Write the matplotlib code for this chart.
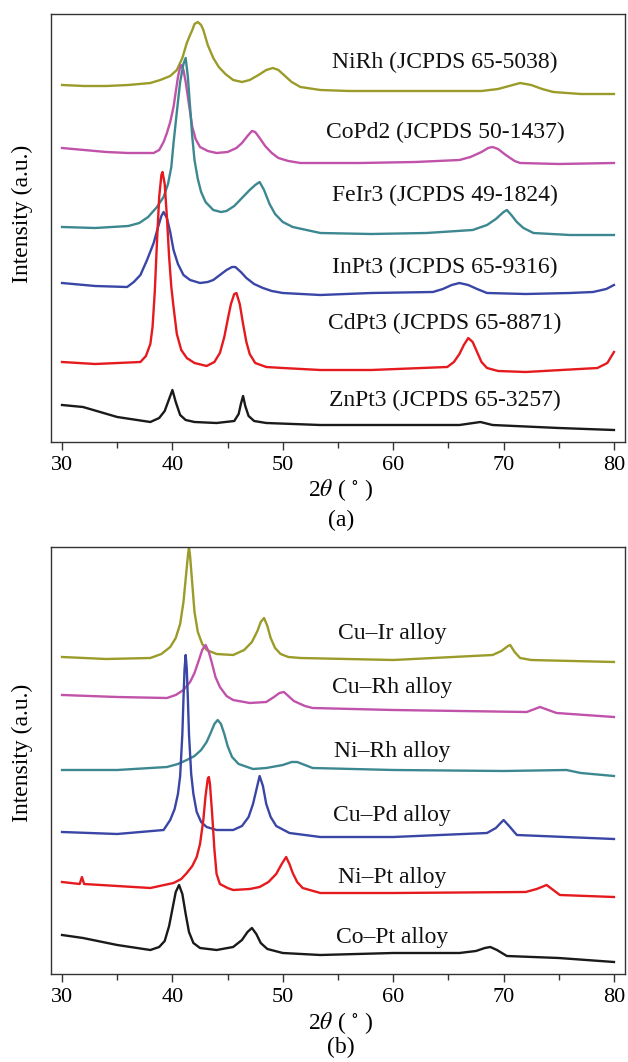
import matplotlib
matplotlib.use("Agg")
import matplotlib.pyplot as plt
from matplotlib.ticker import MultipleLocator

plt.rcParams['font.family'] = ['Liberation Serif', 'DejaVu Serif']
plt.rcParams['mathtext.fontset'] = 'stix'

# ---------------- Panel (a) data ----------------
labels_a = ["NiRh (JCPDS 65-5038)", "CoPd2 (JCPDS 50-1437)", "FeIr3 (JCPDS 49-1824)",
            "InPt3 (JCPDS 65-9316)", "CdPt3 (JCPDS 65-8871)", "ZnPt3 (JCPDS 65-3257)"]
colors_a = ["#9b9b2a", "#c052aa", "#3d8890", "#3a46a6", "#e51a1f", "#1a1a1a"]

nirh_x = [30, 32, 34, 36, 38, 38.9, 39.8, 40.4, 40.9, 41.3, 41.6, 41.8, 42.0, 42.3, 42.6, 42.8,
          43.2, 43.7, 44.2, 44.8, 45.5, 46.3, 47.0, 47.8, 48.5, 49.1, 49.6, 50.2, 50.8, 51.6,
          53.4, 56, 60, 64, 68, 69.5, 70.5, 71.5, 72.5, 73.5, 74.5, 77, 80]
nirh_y = [357, 356, 356, 357, 359, 362, 366, 372, 384, 399, 407, 412, 418, 420, 417, 412,
          397, 384, 375, 368, 362, 360, 362, 367, 372, 374, 372, 366, 360, 355,
          352, 351, 351, 351, 351, 353, 356, 359, 357, 353, 350, 348, 348]

copd2_x = [30, 32, 34, 36, 38.3, 38.8, 39.2, 39.5, 39.8, 40.1, 40.3, 40.5, 40.7, 40.8, 41.0,
           41.2, 41.4, 41.6, 41.8, 42.1, 42.5, 43.2, 44, 45, 45.8, 46.3, 46.8, 47.2, 47.5, 47.9,
           48.4, 49.0, 49.6, 50.5, 51.6, 53.4, 57, 62, 66, 67, 68, 68.6, 69, 69.5, 70.2, 71,
           71.5, 75, 80]
copd2_y = [294, 292, 290, 289, 289, 292, 300, 309, 320, 335, 350, 365, 375, 377, 372,
           360, 345, 330, 315, 303, 295, 291, 289, 290, 294, 299, 306, 311, 310, 304,
           296, 289, 284, 281, 279, 279, 279, 280, 282, 285, 290, 294, 295, 293, 287, 281,
           279, 278, 279]

feir3_x = [30, 33, 36, 37, 37.8, 38.6, 39.2, 39.6, 39.9, 40.1, 40.4, 40.7, 41.0, 41.2, 41.4,
           41.6, 41.8, 42.0, 42.3, 42.6, 43.0, 43.7, 44.4, 44.9, 45.6, 46.3, 47.0, 47.5, 47.9,
           48.3, 48.8, 49.3, 50, 50.9, 53.4, 58, 63, 67.2, 68.5, 69.3, 70, 70.3, 70.7, 71.2,
           71.8, 72.7, 76, 80]
feir3_y = [215, 214, 216, 219, 225, 235, 245, 258, 275, 299, 330, 360, 378, 384, 365,
           335, 305, 282, 263, 250, 240, 232, 230, 231, 236, 244, 252, 257, 260,
           252, 238, 228, 220, 215, 209, 208, 209, 212, 217, 223, 230, 232, 227, 220,
           214, 209, 207, 207]

inpt3_x = [30, 33, 35.9, 36.5, 37.1, 37.7, 38.3, 38.7, 39.0, 39.2, 39.5, 39.8, 40.1, 40.5, 41.0,
           41.6, 42.5, 43.2, 43.7, 44.3, 44.9, 45.4, 45.7, 46.2, 46.7, 47.4, 48.2, 49, 50, 53.4,
           58, 63.6, 64.5, 65.3, 66, 66.8, 67.6, 68.5, 72, 76, 78.1, 79.3, 80]
inpt3_y = [159, 156, 155, 160, 167, 182, 199, 215, 226, 230, 224, 210, 192, 178, 167,
           162, 159, 160, 162, 167, 172, 175, 175, 170, 164, 158, 154, 151, 149, 147,
           149, 150, 153, 157, 159, 157, 153, 149, 148, 149, 150, 153, 157]

cdpt3_x = [30, 33, 37.1, 37.6, 38.0, 38.2, 38.4, 38.6, 38.8, 39.0, 39.1, 39.3, 39.5, 39.7, 39.9,
           40.1, 40.4, 40.8, 41.3, 42, 43.1, 43.8, 44.3, 44.7, 45.0, 45.3, 45.6, 45.8, 46.1,
           46.4, 46.7, 47.0, 47.5, 48.5, 50, 53.4, 58, 64.9, 65.5, 66.0, 66.4, 66.8, 67.2,
           67.6, 68.0, 68.5, 69.5, 72, 78.5, 79.4, 80]
cdpt3_y = [80, 78, 80, 86, 98, 115, 150, 200, 245, 267, 270, 258, 225, 185, 155,
           135, 108, 92, 84, 79, 76, 80, 89, 105, 122, 138, 148, 149, 138,
           118, 100, 88, 79, 75, 74, 72, 72, 75, 80, 88, 97, 104, 100,
           90, 80, 74, 71, 70, 74, 79, 90]

znpt3_x = [30, 31.9, 35, 38, 38.8, 39.3, 39.7, 40.0, 40.3, 40.7, 41.2, 42, 44, 45.6, 46.0, 46.2,
           46.4, 46.6, 46.9, 47.4, 48.5, 53.4, 60, 66, 67.9, 69, 75, 80]
znpt3_y = [37, 35, 25, 20, 24, 31, 43, 52, 40, 27, 22, 20, 19, 21, 28, 38,
           46, 36, 26, 21, 19, 17, 17, 17, 20, 17, 14, 12]

# ---------------- Panel (b) data ----------------
labels_b = ["Cu\u2013Ir alloy", "Cu\u2013Rh alloy", "Ni\u2013Rh alloy",
            "Cu\u2013Pd alloy", "Ni\u2013Pt alloy", "Co\u2013Pt alloy"]
colors_b = colors_a

cuir_x = [30, 34, 38, 39, 39.8, 40.3, 40.7, 41.0, 41.2, 41.4, 41.5, 41.6, 41.8, 42.0, 42.3,
          42.7, 43.1, 44, 45.5, 46.5, 47.2, 47.7, 48.0, 48.3, 48.6, 48.9, 49.3, 49.8, 50.5,
          51.6, 60, 69, 69.8, 70.4, 70.6, 71.0, 71.5, 72.5, 80]
cuir_y = [317, 315, 316, 320, 327, 336, 350, 372, 395, 418, 427, 418, 390, 362, 342,
          330, 324, 320, 319, 324, 332, 343, 352, 356, 348, 336, 326, 320, 317,
          316, 314, 319, 323, 328, 329, 322, 316, 314, 312]

curh_x = [30, 35, 39.5, 40.3, 41, 41.6, 42.0, 42.4, 42.7, 43.0, 43.3, 43.6, 43.9, 44.3, 44.9,
          45.5, 47, 48.5, 49.2, 49.7, 50.1, 50.5, 51, 52, 52.7, 60, 72.1, 73.3, 74.8, 80]
curh_y = [279, 277, 276, 279, 284, 292, 301, 314, 324, 329, 322, 310, 297, 287, 278,
          274, 271, 272, 277, 281, 282, 278, 273, 268, 266, 264, 262, 267, 261, 257]

nirh_b_x = [30, 35, 39.5, 40.5, 41.3, 42, 42.6, 43.1, 43.5, 43.8, 44.1, 44.4, 44.7, 45.0, 45.4,
            46, 47.3, 48.5, 50, 50.8, 51.3, 52, 52.7, 60, 70, 75.7, 77, 80]
nirh_b_y = [204, 204, 207, 210, 214, 218, 224, 232, 242, 250, 254, 250, 240, 228, 217,
            210, 205, 206, 209, 212, 212, 209, 206, 204, 203, 204, 201, 198]

cupd_x = [30, 35, 39.2, 39.8, 40.2, 40.5, 40.7, 40.9, 41.0, 41.1, 41.2, 41.3, 41.4, 41.5, 41.7,
          41.9, 42.2, 42.6, 43.1, 44, 45.5, 46.3, 46.9, 47.3, 47.6, 47.9, 48.2, 48.5, 48.9,
          49.4, 50.6, 53.4, 60, 68.5, 69.3, 70, 70.5, 71.2, 80]
cupd_y = [142, 140, 144, 154, 165, 180, 198, 240, 275, 305, 319, 305, 275, 240, 200,
          180, 162, 152, 147, 144, 144, 148, 157, 170, 184, 198, 188, 170, 157,
          148, 141, 137, 137, 141, 146, 154, 148, 139, 135]

nipt_x = [30, 31.6, 31.8, 32.0, 35, 38, 40.1, 40.8, 41.3, 41.8, 42.2, 42.5, 42.8, 43.0, 43.2,
          43.3, 43.4, 43.6, 43.8, 44.0, 44.3, 45, 45.5, 47, 47.9, 48.7, 49.4, 49.9, 50.3,
          50.6, 50.9, 51.3, 51.8, 53.4, 60, 72, 73, 73.9, 74.5, 75.1, 80]
nipt_y = [92, 90, 97, 90, 88, 86, 91, 95, 101, 108, 117, 130, 154, 178, 195,
          197, 190, 160, 125, 100, 90, 86, 84, 85, 87, 92, 100, 110, 117,
          110, 101, 92, 86, 81, 81, 82, 85, 89, 84, 79, 77]

copt_x = [30, 31.9, 35, 38, 38.8, 39.3, 39.7, 40.0, 40.3, 40.6, 40.9, 41.2, 41.5, 41.9, 42.5,
          44, 45.5, 46.3, 46.8, 47.2, 47.6, 48.0, 48.6, 50, 53.4, 60, 66, 67.5, 68.3, 68.8,
          69.4, 70.3, 75, 80]
copt_y = [39, 36, 29, 24, 27, 33, 48, 65, 82, 89, 80, 60, 42, 31, 26,
          24, 27, 34, 42, 46, 40, 31, 25, 21, 19, 21, 21, 23, 26, 27,
          24, 18, 16, 12]

series_a = [(nirh_x, nirh_y), (copd2_x, copd2_y), (feir3_x, feir3_y),
            (inpt3_x, inpt3_y), (cdpt3_x, cdpt3_y), (znpt3_x, znpt3_y)]
series_b = [(cuir_x, cuir_y), (curh_x, curh_y), (nirh_b_x, nirh_b_y),
            (cupd_x, cupd_y), (nipt_x, nipt_y), (copt_x, copt_y)]

label_y_a = [380, 310, 247, 175, 119, 42]
label_y_b = [341, 286, 222, 159, 97, 37]

fig = plt.figure(figsize=(6.28, 10.62), dpi=100)
W, H = 628, 1062


def make_axes(top_px, bottom_px):
    left_px, right_px = 51, 625
    return fig.add_axes([left_px / W, 1 - bottom_px / H,
                         (right_px - left_px) / W, (bottom_px - top_px) / H])


ax_a = make_axes(14, 442)
ax_b = make_axes(547, 974)

spine_col = "#333333"
for ax, series, colors, labels, ly, lx, ytop in [
        (ax_a, series_a, colors_a, labels_a, label_y_a, 64.7, 428),
        (ax_b, series_b, colors_b, labels_b, label_y_b, 59.9, 427)]:
    for (xs, ys), c in zip(series, colors):
        ax.plot(xs, ys, color=c, lw=1.7, solid_joinstyle='round')
    for lab, yy in zip(labels, ly):
        ax.text(lx, yy, lab, ha='center', va='center', fontsize=17, color='#111111')
    ax.set_xlim(29, 81)
    ax.set_ylim(0, ytop)
    ax.set_yticks([])
    ax.xaxis.set_major_locator(MultipleLocator(10))
    ax.xaxis.set_minor_locator(MultipleLocator(5))
    ax.tick_params(axis='x', which='major', direction='out', length=6, width=1,
                   color=spine_col, labelsize=16, pad=4)
    ax.tick_params(axis='x', which='minor', direction='out', length=4, width=1,
                   color=spine_col)
    for s in ax.spines.values():
        s.set_color(spine_col)
        s.set_linewidth(1.0)

# axis labels and panel captions
fig.text(340 / W, 1 - 490 / H, r'2$\theta$ ( $^{\circ}$ )', ha='center', va='center', fontsize=17)
fig.text(341 / W, 1 - 520 / H, '(a)', ha='center', va='center', fontsize=17)
fig.text(340 / W, 1 - 1023 / H, r'2$\theta$ ( $^{\circ}$ )', ha='center', va='center', fontsize=17)
fig.text(341 / W, 1 - 1047 / H, '(b)', ha='center', va='center', fontsize=17)
fig.text(22 / W, 1 - 214 / H, 'Intensity (a.u.)', rotation=90, ha='center', va='center', fontsize=17)
fig.text(22 / W, 1 - 753 / H, 'Intensity (a.u.)', rotation=90, ha='center', va='center', fontsize=17)

fig.savefig("out.png", dpi=100)
